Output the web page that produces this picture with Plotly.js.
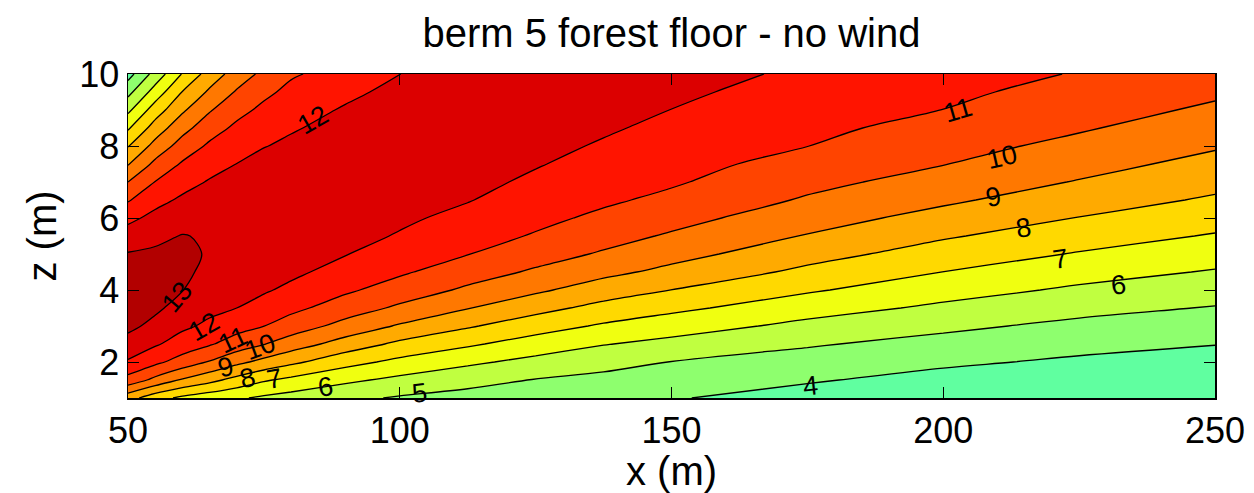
<!DOCTYPE html>
<html>
<head>
<meta charset="utf-8">
<script src="https://cdn.plot.ly/plotly-3.0.1.min.js"></script>
<style>
html,body{margin:0;padding:0;background:#ffffff;}
#chart{width:1254px;height:493px;}
</style>
</head>
<body>
<div id="chart"></div>
<script>
// Grid positions (m)
const xPositions = [50, 55, 60, 65, 70, 75, 80, 90, 100, 112.5, 125, 137.5, 150, 175, 200, 225, 250];
const zHeights = [1, 1.5, 2, 2.5, 3, 3.5, 4, 4.5, 5, 5.5, 6, 6.5, 7, 7.5, 8, 8.5, 9, 9.5, 10];

// Field values, one column per x position (bottom z=1 to top z=10)
const colX50  = [8.40, 10.63, 11.89, 12.69, 13.20, 13.28, 13.30, 13.25, 13.06, 12.44, 11.75, 10.91, 10.00, 8.92, 7.94, 6.87, 5.78, 4.70, 3.61];
const colX55  = [7.42, 9.73, 11.23, 12.12, 12.78, 13.15, 13.25, 13.28, 13.15, 12.79, 12.28, 11.69, 11.03, 10.24, 9.34, 8.44, 7.49, 6.42, 5.37];
const colX60  = [6.78, 8.90, 10.58, 11.56, 12.19, 12.70, 13.02, 13.15, 13.15, 13.04, 12.59, 12.16, 11.65, 11.11, 10.42, 9.66, 8.84, 8.03, 7.06];
const colX65  = [6.43, 8.29, 9.93, 11.10, 11.80, 12.25, 12.58, 12.82, 12.94, 12.90, 12.78, 12.48, 12.08, 11.63, 11.16, 10.57, 9.91, 9.16, 8.43];
const colX70  = [6.13, 7.67, 9.26, 10.54, 11.37, 12.00, 12.40, 12.67, 12.84, 12.91, 12.87, 12.70, 12.42, 12.01, 11.60, 11.20, 10.69, 10.10, 9.44];
const colX75  = [5.84, 7.11, 8.71, 10.04, 11.01, 11.59, 12.12, 12.45, 12.68, 12.83, 12.88, 12.82, 12.64, 12.36, 11.96, 11.60, 11.22, 10.78, 10.25];
const colX80  = [5.62, 6.76, 8.22, 9.50, 10.53, 11.25, 11.77, 12.22, 12.50, 12.70, 12.80, 12.80, 12.68, 12.47, 12.20, 11.90, 11.58, 11.25, 10.88];
const colX90  = [5.23, 6.20, 7.34, 8.58, 9.66, 10.51, 11.16, 11.60, 12.04, 12.33, 12.55, 12.70, 12.76, 12.72, 12.58, 12.36, 12.10, 11.78, 11.42];
const colX100 = [4.90, 5.76, 6.75, 7.78, 8.89, 9.82, 10.56, 11.14, 11.53, 11.92, 12.18, 12.40, 12.56, 12.65, 12.68, 12.62, 12.48, 12.27, 11.99];
const colX112 = [4.66, 5.32, 6.19, 7.15, 8.11, 9.05, 9.83, 10.46, 11.03, 11.38, 11.72, 12.05, 12.28, 12.47, 12.60, 12.69, 12.74, 12.74, 12.70];
const colX125 = [4.46, 4.96, 5.71, 6.55, 7.44, 8.32, 9.17, 9.86, 10.41, 10.92, 11.24, 11.53, 11.82, 12.07, 12.27, 12.43, 12.55, 12.62, 12.65];
const colX137 = [4.28, 4.74, 5.32, 6.05, 6.87, 7.69, 8.51, 9.25, 9.89, 10.37, 10.81, 11.15, 11.40, 11.65, 11.90, 12.12, 12.30, 12.44, 12.54];
const colX150 = [4.07, 4.54, 4.98, 5.71, 6.46, 7.23, 7.99, 8.74, 9.34, 9.88, 10.34, 10.78, 11.11, 11.33, 11.55, 11.77, 11.99, 12.17, 12.32];
const colX175 = [3.60, 4.10, 4.59, 5.10, 5.74, 6.42, 7.12, 7.77, 8.37, 8.94, 9.42, 9.89, 10.28, 10.65, 11.01, 11.22, 11.43, 11.64, 11.85];
const colX200 = [3.17, 3.67, 4.17, 4.68, 5.21, 5.81, 6.40, 6.99, 7.56, 8.11, 8.66, 9.17, 9.60, 10.03, 10.35, 10.68, 10.99, 11.21, 11.42];
const colX225 = [2.93, 3.38, 3.84, 4.30, 4.77, 5.29, 5.84, 6.38, 6.93, 7.45, 7.97, 8.46, 8.94, 9.35, 9.74, 10.10, 10.38, 10.66, 10.94];
const colX250 = [2.70, 3.15, 3.60, 4.03, 4.49, 4.94, 5.43, 5.92, 6.42, 6.92, 7.40, 7.87, 8.29, 8.70, 9.10, 9.47, 9.85, 10.15, 10.40];

// Contour levels and band colours (band below 4, 4-5, ..., 12-13, above 13)
const levelStart = 4;
const levelEnd = 13;
const levelStep = 1;
const bandColors = ['#60ffa0', '#8eff6e', '#c0ff40', '#f0ff10', '#ffd900', '#ffaa00', '#ff7800', '#ff4400', '#ff1400', '#dc0000', '#b20000'];

// Contour label texts
const labelTexts = ['12', '13', '12', '11', '10', '9', '8', '7', '6', '5', '4', '11', '10', '9', '8', '7', '6'];

// ---- build the table for the library ----
const columns = [colX50, colX55, colX60, colX65, colX70, colX75, colX80, colX90, colX100, colX112, colX125, colX137, colX150, colX175, colX200, colX225, colX250];
const zMatrix = zHeights.map((h, i) => columns.map(col => col[i]));
const colorscale = bandColors.map((c, i) => [i / (bandColors.length - 1), c]);

const trace = {
  type: 'contour',
  x: xPositions,
  y: zHeights,
  z: zMatrix,
  autocontour: false,
  contours: {start: levelStart, end: levelEnd, size: levelStep, coloring: 'fill', showlabels: false},
  colorscale: colorscale,
  showscale: false,
  line: {color: '#000000', width: 1.3, smoothing: 1},
  hoverinfo: 'skip'
};

// label placement (layout only)
const labelPlacement = [
  [84.0, 8.72, -30], [59.0, 3.81, -50], [63.9, 2.98, -30], [69.3, 2.61, -25], [74.2, 2.43, -20],
  [68.0, 1.87, -15], [72.0, 1.55, -13], [76.9, 1.52, -10], [86.4, 1.31, -9], [103.7, 1.15, -7],
  [175.5, 1.33, -6], [202.8, 8.99, -16], [210.8, 7.69, -13], [209.2, 6.58, -11], [214.7, 5.72, -9],
  [221.5, 4.87, -8], [232.2, 4.14, -6]
];
const annotations = labelTexts.map((t, i) => ({
  text: t, x: labelPlacement[i][0], y: labelPlacement[i][1], xref: 'x', yref: 'y',
  textangle: labelPlacement[i][2], showarrow: false, xanchor: 'center', yanchor: 'middle',
  font: {size: 27, color: '#000000', family: '"Liberation Sans", Arial, sans-serif'}
}));

const axisCommon = {
  ticks: 'inside', ticklen: 11, tickwidth: 1, tickcolor: '#000000',
  showline: true, linecolor: '#000000', linewidth: 1.5, mirror: 'ticks',
  showgrid: false, zeroline: false,
  tickfont: {size: 36, color: '#000000', family: '"Liberation Sans", Arial, sans-serif'}
};

const layout = {
  width: 1254, height: 493,
  margin: {l: 128, r: 39, t: 74, b: 95, pad: 0},
  paper_bgcolor: '#ffffff', plot_bgcolor: '#ffffff',
  font: {family: '"Liberation Sans", Arial, sans-serif', color: '#000000'},
  title: {text: 'berm 5 forest floor - no wind', font: {size: 40, color: '#000000'},
          x: 0.5, xref: 'paper', xanchor: 'center', y: 0.933, yref: 'container', yanchor: 'middle'},
  xaxis: Object.assign({}, axisCommon, {
    range: [50, 250], tickvals: [50, 100, 150, 200, 250], ticktext: ['50', '100', '150', '200', '250'],
    title: {text: 'x (m)', font: {size: 40, color: '#000000'}, standoff: 0}
  }),
  yaxis: Object.assign({}, axisCommon, {
    range: [1, 10], tickvals: [2, 4, 6, 8, 10], ticktext: ['2', '4', '6', '8', '10'],
    title: {text: 'z (m)', font: {size: 40, color: '#000000'}, standoff: 10}
  }),
  annotations: annotations,
  showlegend: false
};

Plotly.newPlot('chart', [trace], layout, {staticPlot: true, displayModeBar: false});
</script>
</body>
</html>
